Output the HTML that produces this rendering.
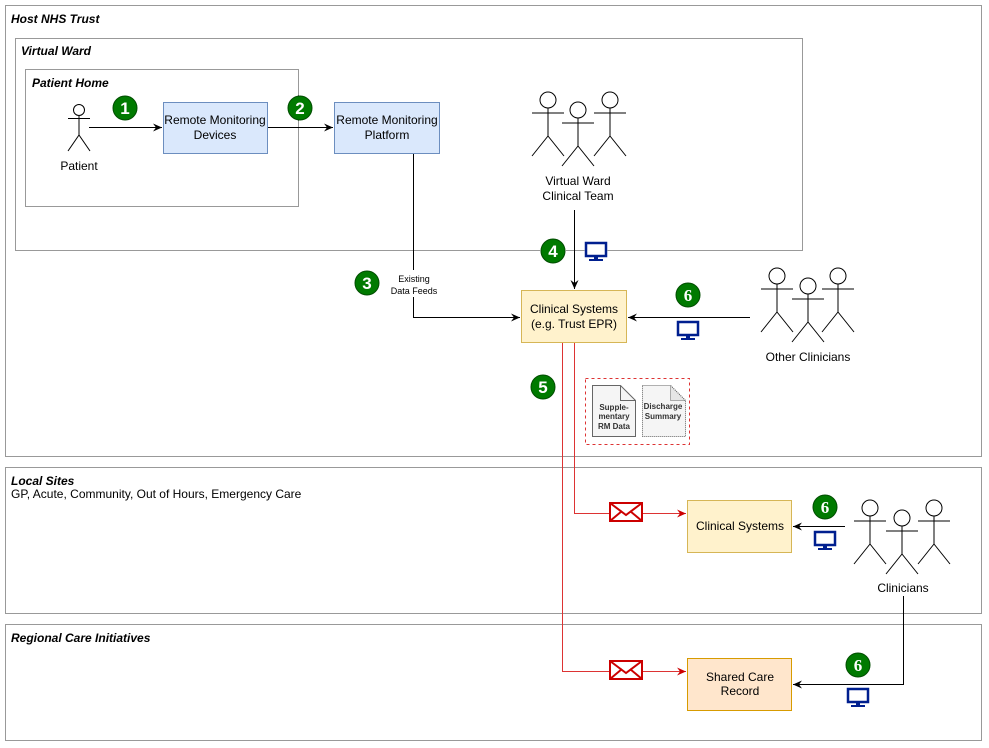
<!DOCTYPE html>
<html><head><meta charset="utf-8"><style>
body{margin:0;background:#fff}
svg{display:block;font-family:"Liberation Sans",Arial,sans-serif}
</style></head><body>
<svg width="989" height="748" viewBox="0 0 989 748" xmlns="http://www.w3.org/2000/svg">
<defs>
<g id="actor" fill="none" stroke="#000" stroke-width="1">
<circle cx="0" cy="8" r="8" fill="#fff"/>
<line x1="0" y1="16" x2="0" y2="44"/>
<line x1="-16" y1="21" x2="16" y2="21"/>
<line x1="0" y1="44" x2="-16" y2="64"/>
<line x1="0" y1="44" x2="16" y2="64"/>
</g>
<g id="mon">
<rect x="-10" y="-9" width="20" height="13" fill="#fff" stroke="#001f8f" stroke-width="2.5"/>
<rect x="-2" y="4" width="4" height="3" fill="#001f8f"/>
<rect x="-7" y="7" width="14" height="2" fill="#001f8f"/>
</g>
<g id="env">
<rect x="-16" y="-9" width="32" height="18" fill="#fff" stroke="#c00" stroke-width="2"/>
<polyline points="-16,-9 0,3 16,-9" fill="none" stroke="#c00" stroke-width="2"/>
<line x1="-16" y1="9" x2="-4" y2="-1" stroke="#c00" stroke-width="2"/>
<line x1="16" y1="9" x2="4" y2="-1" stroke="#c00" stroke-width="2"/>
</g>
<marker id="ab" markerWidth="10" markerHeight="10" refX="9" refY="5" orient="auto" markerUnits="userSpaceOnUse"><path d="M0,1 L9,5 L0,9 L3,5 Z" fill="#000"/></marker>
<marker id="ar" markerWidth="10" markerHeight="10" refX="9" refY="5" orient="auto" markerUnits="userSpaceOnUse"><path d="M0,1 L9,5 L0,9 L3,5 Z" fill="#c00"/></marker>
</defs>

<g fill="none" stroke="#333" stroke-width="1" stroke-dasharray="1,1">
<rect x="5.5" y="5.5" width="976" height="451"/>
<rect x="15.5" y="38.5" width="787" height="212"/>
<rect x="25.5" y="69.5" width="273" height="137"/>
<rect x="5.5" y="467.5" width="976" height="146"/>
<rect x="5.5" y="624.5" width="976" height="116"/>
</g>
<g font-size="12" font-style="italic" font-weight="bold" fill="#000">
<text x="11" y="23">Host NHS Trust</text>
<text x="21" y="55">Virtual Ward</text>
<text x="32" y="87">Patient Home</text>
<text x="11" y="485">Local Sites</text>
<text x="11" y="642">Regional Care Initiatives</text>
</g>
<text x="11" y="498" font-size="12">GP, Acute, Community, Out of Hours, Emergency Care</text>

<g stroke="#000" stroke-width="1" fill="none">
<line x1="89" y1="127.5" x2="162" y2="127.5" marker-end="url(#ab)"/>
<line x1="268" y1="127.5" x2="333" y2="127.5" marker-end="url(#ab)"/>
<polyline points="413.5,154 413.5,317.5 520,317.5" marker-end="url(#ab)"/>
<line x1="574.5" y1="210" x2="574.5" y2="289" marker-end="url(#ab)"/>
<line x1="750" y1="317.5" x2="628" y2="317.5" marker-end="url(#ab)"/>
<line x1="845" y1="526.5" x2="793" y2="526.5" marker-end="url(#ab)"/>
<polyline points="903.5,596 903.5,684.5 793,684.5" marker-end="url(#ab)"/>
</g>
<rect x="388" y="270" width="54" height="27" fill="#fff"/>
<text x="414" y="282" font-size="9" text-anchor="middle">Existing</text>
<text x="414" y="294" font-size="9" text-anchor="middle">Data Feeds</text>
<g stroke="#d33" stroke-width="1" fill="none">
<polyline points="574.5,343 574.5,513.5 686,513.5" marker-end="url(#ar)"/>
<polyline points="562.5,343 562.5,671.5 686,671.5" marker-end="url(#ar)"/>
</g>
<use href="#env" x="626" y="512"/>
<use href="#env" x="626" y="670"/>

<g stroke-width="1">
<rect x="163.5" y="102.5" width="104" height="51" fill="#dae8fc" stroke="#6c8ebf"/>
<rect x="334.5" y="102.5" width="105" height="51" fill="#dae8fc" stroke="#6c8ebf"/>
<rect x="521.5" y="290.5" width="105" height="52" fill="#fff2cc" stroke="#d6b656"/>
<rect x="687.5" y="500.5" width="104" height="52" fill="#fff2cc" stroke="#d6b656"/>
<rect x="687.5" y="658.5" width="104" height="52" fill="#ffe6cc" stroke="#d79b00"/>
</g>
<g font-size="12" text-anchor="middle">
<text x="215" y="124">Remote Monitoring</text><text x="215" y="139">Devices</text>
<text x="387" y="124">Remote Monitoring</text><text x="387" y="139">Platform</text>
<text x="574" y="313">Clinical Systems</text><text x="574" y="328">(e.g. Trust EPR)</text>
<text x="740" y="530">Clinical Systems</text>
<text x="740" y="681">Shared Care</text><text x="740" y="695">Record</text>
<text x="79" y="170">Patient</text>
<text x="578" y="185">Virtual Ward</text><text x="578" y="200">Clinical Team</text>
<text x="808" y="361">Other Clinicians</text>
<text x="903" y="592">Clinicians</text>
</g>

<rect x="585.5" y="378.5" width="104" height="66" fill="none" stroke="#d33" stroke-dasharray="3,3"/>
<path d="M592.5,385.5 H620.5 L635.5,400.5 V436.5 H592.5 Z" fill="#f5f5f5" stroke="#666"/>
<path d="M620.5,385.5 V400.5 H635.5" fill="none" stroke="#666"/>
<path d="M642.5,385.5 H670.5 L685.5,400.5 V436.5 H642.5 Z" fill="#f5f5f5" stroke="#666" stroke-dasharray="1,1"/>
<path d="M670.5,385.5 V400.5 H685.5 Z" fill="#e6e6e6" stroke="#666" stroke-dasharray="1,1"/>
<g font-size="8" font-weight="bold" fill="#333" text-anchor="middle">
<text x="614" y="410">Supple-</text><text x="614" y="419">mentary</text><text x="614" y="429">RM Data</text>
<text x="663" y="409">Discharge</text><text x="663" y="419">Summary</text>
</g>

<!-- patient -->
<g fill="none" stroke="#000" stroke-width="1">
<circle cx="79" cy="110" r="5.5" fill="#fff"/>
<line x1="79" y1="115.5" x2="79" y2="135"/>
<line x1="68" y1="118.5" x2="90" y2="118.5"/>
<line x1="79" y1="135" x2="68" y2="151"/>
<line x1="79" y1="135" x2="90" y2="151"/>
</g>
<use href="#actor" x="548" y="92"/>
<use href="#actor" x="610" y="92"/>
<use href="#actor" x="578" y="102"/>
<use href="#actor" x="777" y="268"/>
<use href="#actor" x="838" y="268"/>
<use href="#actor" x="808" y="278"/>
<use href="#actor" x="870" y="500"/>
<use href="#actor" x="934" y="500"/>
<use href="#actor" x="902" y="510"/>

<g font-family="Liberation Sans,sans-serif" font-weight="bold" font-size="17" text-anchor="middle" fill="#fff">
<g><circle cx="125" cy="108" r="12" fill="#007a00" stroke="#004d00"/><text x="125" y="114">1</text></g>
<g><circle cx="300" cy="108" r="12" fill="#007a00" stroke="#004d00"/><text x="300" y="114">2</text></g>
<g><circle cx="367" cy="283" r="12" fill="#007a00" stroke="#004d00"/><text x="367" y="289">3</text></g>
<g><circle cx="553" cy="251" r="12" fill="#007a00" stroke="#004d00"/><text x="553" y="257">4</text></g>
<g><circle cx="543" cy="387" r="12" fill="#007a00" stroke="#004d00"/><text x="543" y="393">5</text></g>
</g>
<g font-family="Liberation Serif,serif" font-weight="bold" font-size="17" text-anchor="middle" fill="#fff">
<g><circle cx="688" cy="295" r="12" fill="#007a00" stroke="#004d00"/><text x="688" y="301">6</text></g>
<g><circle cx="825" cy="507" r="12" fill="#007a00" stroke="#004d00"/><text x="825" y="513">6</text></g>
<g><circle cx="858" cy="665" r="12" fill="#007a00" stroke="#004d00"/><text x="858" y="671">6</text></g>
</g>
<use href="#mon" x="596" y="252"/>
<use href="#mon" x="688" y="331"/>
<use href="#mon" x="825" y="541"/>
<use href="#mon" x="858" y="698"/>
</svg>
</body></html>
